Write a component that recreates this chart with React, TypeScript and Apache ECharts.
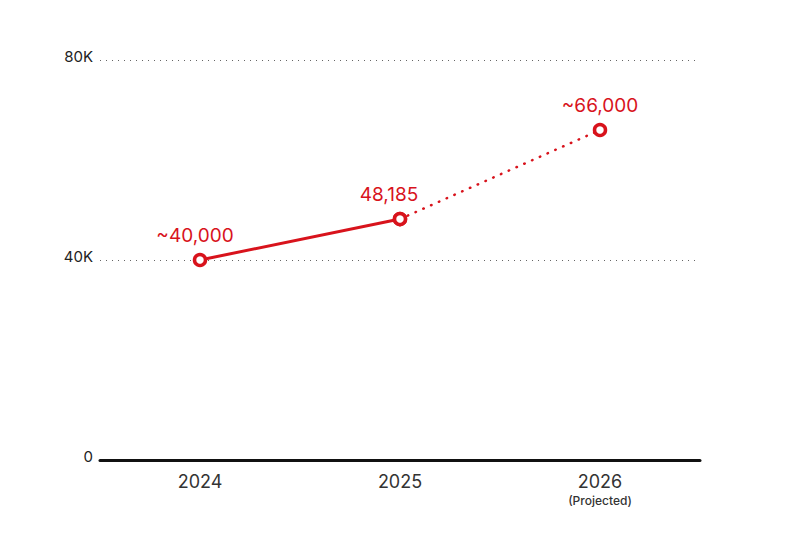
import React, { useEffect, useRef } from "react";
import * as echarts from "echarts";

const categories = ["2024", "2025", "2026"];
const actualValues: (number | null)[] = [40000, 48185, null];
const projectedValues: (number | null)[] = [null, 48185, 66000];
const pointLabels = ["~40,000", "48,185", "~66,000"];
const yTicks = [0, 40000, 80000];
const yTickLabels = ["0", "40K", "80K"];

const RED = "#d8131c";
const FONT = "Inter, 'Noto Sans', sans-serif";

export default function App() {
  const ref = useRef<HTMLDivElement>(null);
  useEffect(() => {
    if (!ref.current) return;
    const chart = echarts.init(ref.current, undefined, { renderer: "svg" });
    const labelOffsets = [[-5, 2], [-11, 2], [0, 2]];
    const mk = (vals: (number | null)[], showLabelIdx: number[]) =>
      vals.map((v, i) =>
        v === null
          ? null
          : {
              value: v,
              label: {
                show: showLabelIdx.includes(i),
                formatter: pointLabels[i],
                offset: labelOffsets[i],
              },
            }
      );
    chart.setOption({
      animation: false,
      backgroundColor: "#ffffff",
      textStyle: { fontFamily: FONT },
      grid: { left: 100, right: 100, top: 60, bottom: 74, containLabel: false },
      xAxis: {
        type: "category",
        data: categories,
        boundaryGap: true,
        axisLine: { show: true, lineStyle: { color: "#111", width: 3 } },
        axisTick: { show: false },
        axisLabel: {
          margin: 11,
          color: "#333",
          fontSize: 18,
          fontFamily: FONT,
          formatter: (v: string) =>
            v === "2026" ? "{y|" + v + "}\n{p|(Projected)}" : "{y|" + v + "}",
          rich: {
            y: { fontSize: 18, color: "#333", fontFamily: FONT, lineHeight: 20 },
            p: { fontSize: 12, color: "#333", fontFamily: FONT, fontWeight: 500, lineHeight: 18 },
          },
        },
      },
      yAxis: {
        type: "value",
        min: yTicks[0],
        max: yTicks[yTicks.length - 1],
        interval: yTicks[1] - yTicks[0],
        axisLine: { show: false },
        axisTick: { show: false },
        axisLabel: {
          margin: 7,
          color: "#222",
          fontSize: 15,
          fontFamily: FONT,
          verticalAlign: "bottom",
          lineHeight: 8,
          formatter: (v: number) => yTickLabels[yTicks.indexOf(v)] ?? String(v),
        },
        splitLine: {
          show: true,
          lineStyle: { color: "#666", width: 1, type: [1, 5] },
        },
      },
      series: [
        {
          type: "line",
          data: mk(actualValues, [0, 1]),
          symbol: "circle",
          symbolSize: 11,
          itemStyle: { color: "#fff", borderColor: RED, borderWidth: 3.5 },
          lineStyle: { color: RED, width: 3 },
          label: {
            position: "top",
            distance: 10,
            color: RED,
            fontSize: 19,
            fontFamily: FONT,
          },
          z: 3,
        },
        {
          type: "line",
          data: mk(projectedValues, [2]),
          symbol: "circle",
          symbolSize: 11,
          itemStyle: { color: "#fff", borderColor: RED, borderWidth: 3.5 },
          lineStyle: { color: RED, width: 2.5, type: [0.5, 8], cap: "round" },
          label: {
            position: "top",
            distance: 10,
            color: RED,
            fontSize: 19,
            fontFamily: FONT,
          },
          z: 2,
        },
      ],
    });
    return () => chart.dispose();
  }, []);
  return (
    <div
      ref={ref}
      style={{ position: "absolute", left: 0, top: 0, width: 800, height: 534, background: "#fff" }}
    />
  );
}
